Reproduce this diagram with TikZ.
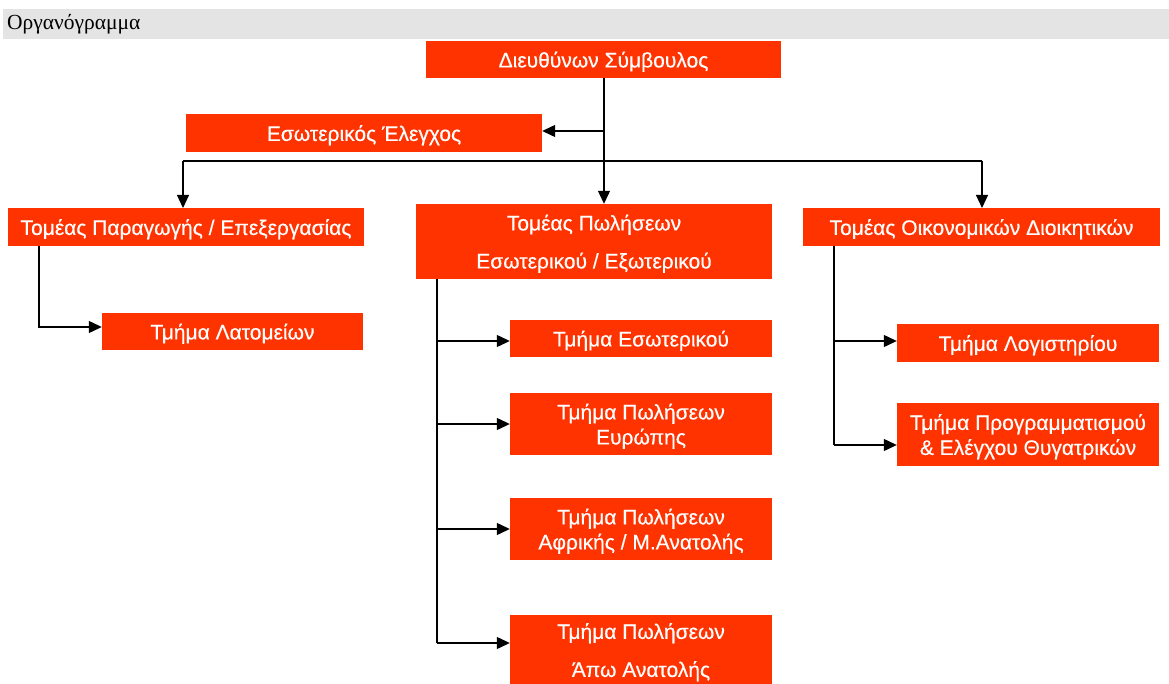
\documentclass[tikz,border=0pt]{standalone}
\usepackage{fontspec}
\setmainfont{Liberation Serif}
\setsansfont{Liberation Sans}
\newfontfamily\boxfont{Liberation Sans}[FakeBold=0.4]
\usetikzlibrary{arrows.meta}
\definecolor{boxred}{HTML}{FF3300}
\definecolor{bargray}{HTML}{E4E4E4}
\begin{document}
\begin{tikzpicture}[x=1pt,y=-1pt,
  box/.style={fill=boxred, text=white, inner sep=0pt, text depth=0pt, font=\boxfont\fontsize{21}{25}\selectfont, align=center},
  widebox/.style={box, minimum width=356pt},
  smallbox/.style={box, minimum width=262pt},
  conn/.style={line width=1.2pt, -{Triangle[length=13pt,width=12pt]}},
  wire/.style={line width=1.2pt}]
\useasboundingbox (0,0) rectangle (1169,684);
\node[fill=bargray, anchor=north west, minimum width=1166pt, minimum height=30pt, inner sep=0pt] (bar) at (3,9) {};
\node[anchor=west, inner sep=0pt, font=\fontsize{21.5}{22}\selectfont] (title) at (7,24) {Οργανόγραμμα};

\node[box, minimum width=355pt, minimum height=37pt] (ceo) at (603.5,59.5) {Διευθύνων Σύμβουλος};
\node[widebox, minimum height=38pt] (ie) at (364,133) {Εσωτερικός Έλεγχος};
\node[widebox, minimum height=38pt] (prod) at (186,227) {Τομέας Παραγωγής / Επεξεργασίας};
\node[widebox, minimum height=75pt, font=\boxfont\fontsize{21}{38}\selectfont] (sales) at (594,241.5) {Τομέας Πωλήσεων\\Εσωτερικού / Εξωτερικού};
\node[box, minimum width=357pt, minimum height=38pt] (fin) at (981.5,227) {Τομέας Οικονομικών Διοικητικών};

\node[box, minimum width=261pt, minimum height=37pt] (lat) at (232.5,331.5) {Τμήμα Λατομείων};

\node[smallbox, minimum height=37pt] (esw) at (641,338.5) {Τμήμα Εσωτερικού};
\node[smallbox, minimum height=62pt] (eur) at (641,424) {Τμήμα Πωλήσεων\\Ευρώπης};
\node[smallbox, minimum height=62pt] (afr) at (641,529) {Τμήμα Πωλήσεων\\Αφρικής / Μ.Ανατολής};
\node[smallbox, minimum height=71pt, font=\boxfont\fontsize{21}{38}\selectfont] (apo) at (641,650) {Τμήμα Πωλήσεων\\Άπω Ανατολής};

\node[smallbox, minimum height=38pt] (log) at (1028,343) {Τμήμα Λογιστηρίου};
\node[smallbox, minimum height=63pt] (prog) at (1028,434.5) {Τμήμα Προγραμματισμού\\\& Ελέγχου Θυγατρικών};

% top level
\coordinate (trunk) at (604,78);
\draw[conn] (trunk) -- (trunk |- sales.north);
\draw[conn] (trunk |- 0,131) -- (ie.east |- 0,131);
\draw[wire] (183,161) -- (982,161);
\draw[conn] (183,161) -- (183,208);
\draw[conn] (982,161) -- (982,208);

% production
\coordinate (pspine) at (39,246);
\draw[conn] (pspine) |- (lat.west |- 0,327);

% sales
\coordinate (sspine) at (437,279);
\draw[wire] (sspine) -- (437,643);
\draw[conn] (437,341) -- (esw.west |- 0,341);
\draw[conn] (437,424) -- (eur.west |- 0,424);
\draw[conn] (437,529) -- (afr.west |- 0,529);
\draw[conn] (437,643) -- (apo.west |- 0,643);

% finance
\coordinate (fspine) at (834,246);
\draw[wire] (fspine) -- (834,445);
\draw[conn] (834,341) -- (log.west |- 0,341);
\draw[conn] (834,445) -- (prog.west |- 0,445);
\end{tikzpicture}
\end{document}
